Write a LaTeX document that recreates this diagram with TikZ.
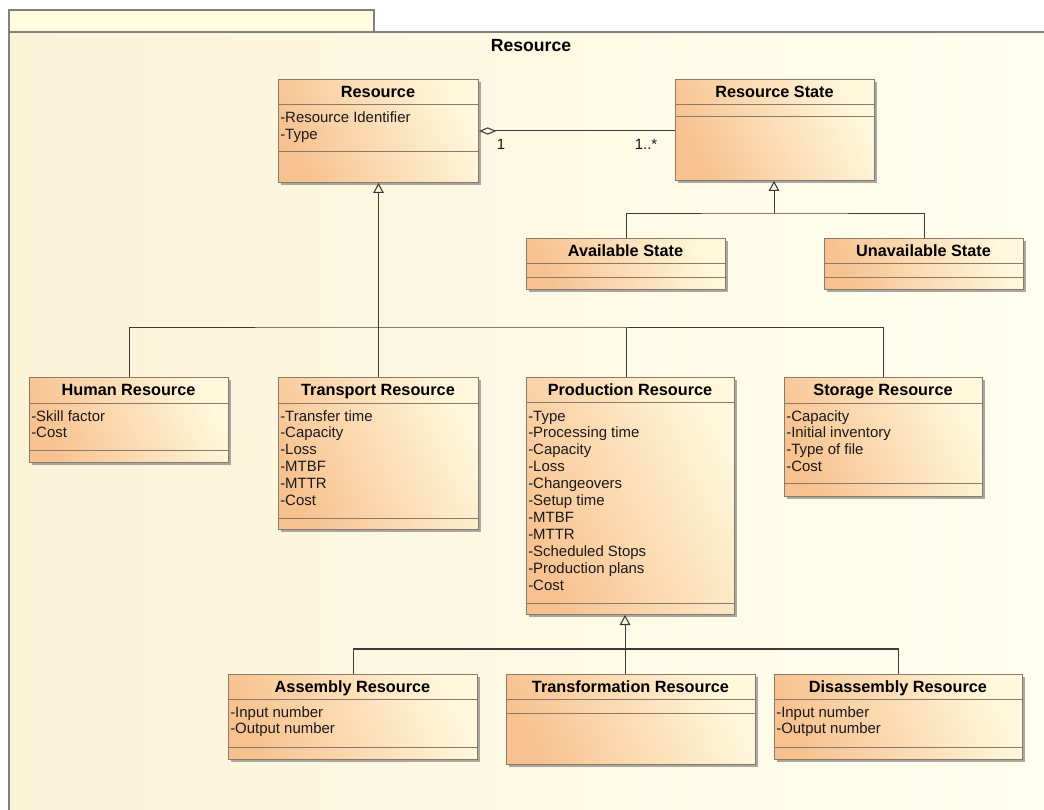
\documentclass[tikz,border=0pt]{standalone}
\usepackage{fontspec}
\setmainfont{Liberation Sans}
\usetikzlibrary{arrows.meta,shadows}
\definecolor{boxorange}{HTML}{F8C290}
\definecolor{boxpale}{HTML}{FFF8DC}
\definecolor{boxborder}{HTML}{8A7A68}
\definecolor{pkgleft}{HTML}{FBF3D8}
\definecolor{pkgmid}{HTML}{FFFCE6}
\definecolor{pkgright}{HTML}{FFFFF0}
\definecolor{pkgborder}{HTML}{808080}
\definecolor{tabfill}{HTML}{FFFCE0}
\definecolor{conncol}{HTML}{3A3A3A}
\definecolor{shadowcol}{HTML}{A8A8A0}
\tikzset{
  classbox/.style={draw=boxborder, line width=0.75pt, left color=boxorange, right color=boxpale,
    shading angle=115, inner sep=0pt, anchor=north west,
    drop shadow={shadow xshift=2.2pt, shadow yshift=-2.2pt, fill=shadowcol, opacity=1}},
  divider/.style={draw=boxborder, line width=0.75pt},
  ctitle/.style={font=\fontsize{12.2}{14}\selectfont\bfseries, inner sep=0pt, text height=8.8pt, text depth=0pt},
  attr/.style={font=\fontsize{11.2}{13}\selectfont, inner sep=0pt, anchor=base west, text=black!90},
  mult/.style={font=\fontsize{11.2}{13}\selectfont, inner sep=0pt, text=black!90},
  conn/.style={draw=conncol, line width=0.75pt},
  bus/.style={draw=conncol, line width=1.6pt},
  gen/.style={-{Triangle[open, length=7.5pt, width=8pt, line width=0.8pt]}},
  agg/.style={{Diamond[open, length=13pt, width=5.5pt, line width=0.8pt]}-},
}
% #1 name, #2 x, #3 y, #4 w, #5 h, #6 title, #7 header divider offset, #8 attribute divider offset
\newcommand\umlclass[8]{%
  \node[classbox, minimum width=#4*0.75pt, minimum height=#5*0.75pt] (#1) at (#2,#3) {};
  \draw[divider] (#2,{#3+#7}) -- ({#2+#4},{#3+#7});
  \draw[divider] (#2,{#3+#8}) -- ({#2+#4},{#3+#8});
  \node[ctitle] (#1-t) at ({#2+#4/2},{#3+#7/2}) {#6};
}
% #1 name, #2 x, #3 y of first baseline, #4 list
\newcommand\umlattrs[4]{%
  \foreach \t [count=\i] in {#4} {
    \node[attr] (#1-a\i) at ({#2+2},{#3+(\i-1)*16.9}) {\t};
  }
}
\begin{document}
\begin{tikzpicture}[x=0.75pt, y=-0.75pt]
\useasboundingbox (0,0) rectangle (1044,809);
\clip (0,0) rectangle (1044,809);
\fill[white] (0,0) rectangle (1044,809);
% package
\shade[left color=pkgleft, middle color=pkgmid, right color=pkgright] (9,32) rectangle (1070,830);
\draw[pkgborder, line width=0.9pt, fill=tabfill] (9,32) -- (9,10) -- (374,10) -- (374,32);
\draw[pkgborder, line width=0.9pt] (1070,32) -- (9,32) -- (9,830);
\node[font=\fontsize{13.2}{15}\selectfont\bfseries, inner sep=0pt] (pkgtitle) at (531,46) {Resource};

% classes
\umlclass{res}{278}{79}{200}{103}{Resource}{26}{73}
\umlattrs{res}{278}{123}{-Resource Identifier,-Type}
\umlclass{rs}{675}{79}{199}{101}{Resource State}{26}{38}
\umlclass{avail}{526}{238}{199}{51}{Available State}{25}{39}
\umlclass{unav}{824}{238}{199}{51}{Unavailable State}{25}{39}
\umlclass{hum}{29}{377}{199}{85}{Human Resource}{26}{73}
\umlattrs{hum}{29}{421}{-Skill factor,-Cost}
\umlclass{trans}{278}{377}{200}{152}{Transport Resource}{26}{141}
\umlattrs{trans}{278}{421}{-Transfer time,-Capacity,-Loss,-MTBF,-MTTR,-Cost}
\umlclass{prod}{526}{377}{208}{237}{Production Resource}{25}{226}
\umlattrs{prod}{526}{421}{-Type,-Processing time,-Capacity,-Loss,-Changeovers,-Setup time,-MTBF,-MTTR,-Scheduled Stops,-Production plans,-Cost}
\umlclass{stor}{784}{377}{198}{119}{Storage Resource}{26}{106}
\umlattrs{stor}{784}{421}{-Capacity,-Initial inventory,-Type of file,-Cost}
\umlclass{asm}{228}{674}{249}{85}{Assembly Resource}{25}{73}
\umlattrs{asm}{228}{717}{-Input number,-Output number}
\umlclass{tfm}{506}{674}{249}{90}{Transformation Resource}{25}{39}
\umlclass{dis}{774}{674}{248}{85}{Disassembly Resource}{25}{73}
\umlattrs{dis}{774}{717}{-Input number,-Output number}

% association Resource <>-- Resource State
\draw[conn, agg] (res.east) -- (rs.west |- res.east);
\node[mult] (m1) at (501,144) {1};
\node[mult] (m2) at (646,144) {1..*};

% generalization of states
\coordinate (gs) at (774,213);
\draw[conn] (avail.north) |- (gs) -| (unav.north);
\draw[conn, gen] (gs) -- (gs |- rs.south);

% generalization of resources
\coordinate (gr) at (378,327);
\coordinate (gpx) at (626,327);
\draw[conn] (hum.north) |- (gr) -| (stor.north);
\draw[conn] (gpx) -- (gpx |- prod.north);
\draw[conn, gen] (trans.north) -- (res.south);

% generalization of production resources
\coordinate (gp) at (625,649);
\draw[conn] (asm.north) -- (asm.north |- gp);
\draw[conn] (dis.north) -- (dis.north |- gp);
\draw[conn] (tfm.north -| gp) -- (gp);
\draw[bus] (asm.north |- gp) -- (dis.north |- gp);
\draw[conn, gen] (gp) -- (gp |- prod.south);
\end{tikzpicture}
\end{document}
